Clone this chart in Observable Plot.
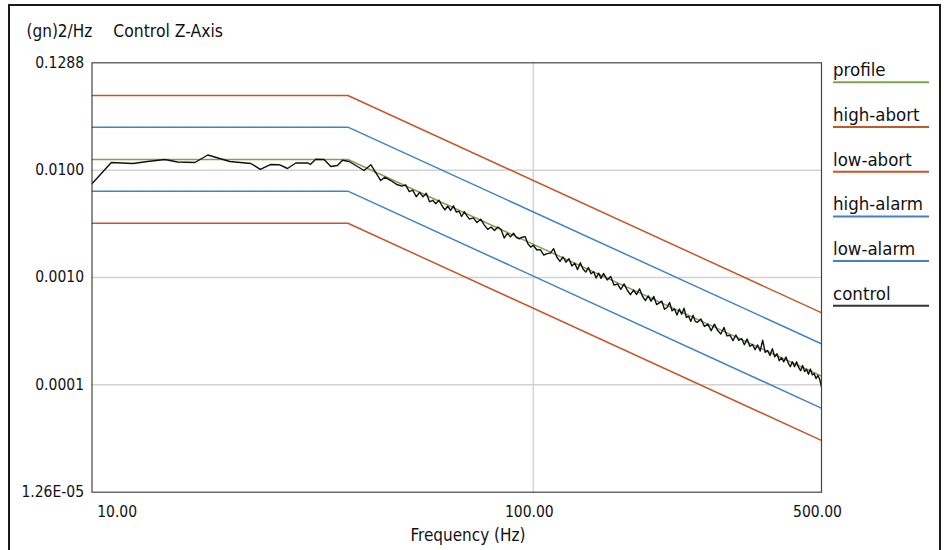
<!DOCTYPE html>
<html><head><meta charset="utf-8">
<script src="https://cdn.jsdelivr.net/npm/d3@7"></script>
<script src="https://cdn.jsdelivr.net/npm/@observablehq/plot@0.6"></script>
<style>
body{margin:0;background:#fff;}
#wrap{position:relative;width:945px;height:550px;overflow:hidden;font-family:"DejaVu Sans Condensed","DejaVu Sans",sans-serif;}
#border{position:absolute;left:8px;top:4px;width:933px;height:600px;border:2px solid #1a1a1a;box-sizing:border-box;}
#chart{position:absolute;left:0;top:0;}
#overlay{position:absolute;left:0;top:0;}
</style></head>
<body>
<div id="wrap"><div id="border"></div><div id="chart"></div><svg id="overlay" width="945" height="550"></svg></div>
<script>
// ---- data ----
const yTickLabels = ["1.26E-05", "0.0001", "0.0010", "0.0100", "0.1288"];
const xTickValues = [10, 100, 500];
const xTickLabels = ["10.00", "100.00", "500.00"];
const xGridValues = [100];
const seriesNames = ["profile", "high-abort", "low-abort", "high-alarm", "low-alarm", "control"];
const seriesColors = ["#7fa352", "#c4562c", "#c4562c", "#4282c2", "#4282c2", "#111111"];

const limitF = [8.5, 35.5, 500];
const profileV = [0.0161, 0.0161, 1.53e-4];
const highAbortV = [0.0638, 0.0638, 5.97e-4];
const lowAbortV = [0.00409, 0.00409, 3.83e-5];
const highAlarmV = [0.0323, 0.0323, 3.06e-4];
const lowAlarmV = [0.00815, 0.00815, 7.67e-5];

const controlF = [
  8.50, 9.47, 10.68, 11.59, 12.77, 13.71, 15.10, 16.23, 18.36, 20.64, 21.76, 23.01, 24.19, 25.33, 26.53, 28.44, 28.76, 29.66, 31.07, 32.26, 33.47, 34.43, 35.73, 38.85, 40.34, 42.64, 43.60, 45.09, 46.81,
  48, 49, 50, 51, 52, 53, 54, 55, 56, 57, 58, 59, 60, 61, 62, 63, 64, 65, 66, 67, 68, 69, 70,
  71.5, 73, 74.5, 76, 77.5, 79, 80.5, 82, 83.5, 85, 86.5, 88, 89.5, 91, 92.5, 94, 95.5, 97, 98.5,
  100, 102, 104, 106, 108, 110, 112, 114, 116, 118, 120, 122, 124, 126, 128, 130, 132, 134, 136, 138, 140, 142, 144, 146, 148,
  151, 154, 157, 160, 163, 166, 169, 172, 175, 178, 181, 184, 187, 190, 193, 196, 199, 202, 205, 208, 211, 214, 217, 220, 223, 226, 229, 232, 235, 238, 241, 244, 247,
  250, 255, 260, 265, 270, 275, 280, 285, 290, 295, 300, 305, 310, 315, 320, 325, 330, 335, 340, 345, 350, 355, 360, 365, 370, 375, 380, 385, 390, 395,
  400, 405, 410, 415, 420, 425, 430, 435, 440, 445, 450, 455, 460, 465, 470, 475, 480, 485, 490, 495, 500];
const controlV = [
  0.00955, 0.0151, 0.01478, 0.01543, 0.01611, 0.01527, 0.0151, 0.01774, 0.01543, 0.01478, 0.01305, 0.01446, 0.0144, 0.01327, 0.01494, 0.01494, 0.01446, 0.01618, 0.01611, 0.01386, 0.01416, 0.01584, 0.01543, 0.01272, 0.0144, 0.01025, 0.01101, 0.01025, 0.00935,
  0.00907, 0.00933, 0.00808, 0.00833, 0.00723, 0.00795, 0.00721, 0.00778, 0.00648, 0.00670, 0.00622, 0.00672, 0.00599, 0.00546, 0.00590, 0.00538, 0.00595, 0.00520, 0.00529, 0.00473, 0.00524, 0.00479, 0.00447,
  0.00459, 0.00415, 0.00446, 0.00395, 0.00358, 0.00377, 0.00350, 0.00377, 0.00357, 0.00298, 0.00329, 0.00305, 0.00330, 0.00300, 0.00292, 0.00303, 0.00307, 0.00263, 0.00245,
  0.00255, 0.00230, 0.00232, 0.00206, 0.00213, 0.00215, 0.00237, 0.00198, 0.00180, 0.00198, 0.00177, 0.00191, 0.00163, 0.00173, 0.00151, 0.00175, 0.00153, 0.00143, 0.00158, 0.00138, 0.00144, 0.00126, 0.00140, 0.00125, 0.00139,
  0.00121, 0.00130, 0.00108, 0.00111, 9.88e-4, 0.00111, 9.68e-4, 8.80e-4, 9.71e-4, 8.84e-4, 9.97e-4, 8.51e-4, 7.76e-4, 8.58e-4, 7.66e-4, 8.48e-4, 7.11e-4, 7.38e-4, 7.67e-4, 6.43e-4, 6.69e-4, 7.43e-4, 6.23e-4, 6.49e-4, 5.69e-4, 6.46e-4, 5.79e-4, 6.58e-4, 5.42e-4, 5.53e-4, 4.96e-4, 5.65e-4, 4.96e-4,
  4.86e-4, 5.22e-4, 4.44e-4, 4.68e-4, 4.06e-4, 4.67e-4, 4.07e-4, 3.78e-4, 4.35e-4, 3.63e-4, 3.68e-4, 3.28e-4, 3.70e-4, 3.30e-4, 3.43e-4, 3.00e-4, 3.39e-4, 2.90e-4, 3.02e-4, 2.70e-4, 2.99e-4, 2.62e-4, 3.31e-4, 2.55e-4, 2.65e-4, 2.38e-4, 2.76e-4, 2.32e-4, 2.47e-4, 2.13e-4,
  2.27e-4, 2.08e-4, 2.31e-4, 2.03e-4, 1.87e-4, 2.08e-4, 1.87e-4, 2.08e-4, 1.84e-4, 1.72e-4, 1.92e-4, 1.69e-4, 1.77e-4, 1.59e-4, 1.78e-4, 1.57e-4, 1.61e-4, 1.45e-4, 1.55e-4, 1.43e-4, 1.21e-4];

const xDomain = [8.5, 500];
const yDomain = [1.26e-5, 0.1288];

// ---- build ----
const zip = (fs, vs) => fs.map((f, i) => ({f, v: vs[i]}));
const lo = Math.log10(yDomain[0]), hi = Math.log10(yDomain[1]);
const yTicks = yTickLabels.map((_, i) => Math.pow(10, lo + (hi - lo) * i / (yTickLabels.length - 1)));
const yLabelMap = new Map(yTicks.map((t, i) => [t, yTickLabels[i]]));
const xLabelMap = new Map(xTickValues.map((t, i) => [t, xTickLabels[i]]));

const W = 945, H = 550, mL = 91.5, mR = 124, mT = 62.3, mB = 58.3;
const lineSeries = [
  [lowAbortV, 2], [highAbortV, 1], [lowAlarmV, 4], [highAlarmV, 3], [profileV, 0]
];
const font = '"DejaVu Sans Condensed", "DejaVu Sans", sans-serif';
const chart = Plot.plot({
  width: W, height: H,
  marginLeft: mL, marginRight: mR, marginTop: mT, marginBottom: mB,
  x: {type: "log", domain: xDomain},
  y: {type: "log", domain: yDomain},
  style: {fontFamily: font, fontSize: "15.5px", color: "#111", background: "transparent", overflow: "visible"},
  marks: [
    Plot.gridY(yTicks.slice(1, -1), {stroke: "#d2d2d2", strokeOpacity: 1, strokeWidth: 1.5}),
    Plot.gridX(xGridValues, {stroke: "#d2d2d2", strokeOpacity: 1, strokeWidth: 1.5}),
    ...lineSeries.map(([vals, ci]) => Plot.line(zip(limitF, vals), {x: "f", y: "v", stroke: seriesColors[ci], strokeWidth: 1.5, clip: true})),
    Plot.line(zip(controlF, controlV), {x: "f", y: "v", stroke: seriesColors[5], strokeWidth: 1.4, clip: true}),
    Plot.frame({stroke: "#444", strokeWidth: 1.2}),
    Plot.axisY(yTicks, {tickSize: 0, tickPadding: 8, tickFormat: d => yLabelMap.get(d), label: null, fontSize: 15.5}),
    Plot.axisX(xTickValues, {tickSize: 0, tickPadding: 14, tickFormat: d => xLabelMap.get(d), label: null, fontSize: 15.5, dx: -4})
  ]
});
document.getElementById("chart").appendChild(chart);

// ---- title, axis label, legend ----
const ov = d3.select("#overlay").style("font-family", font).attr("fill", "#111");
ov.append("text").attr("x", 26.5).attr("y", 36.7).attr("font-size", 17).text("(gn)2/Hz");
ov.append("text").attr("x", 113.3).attr("y", 36.7).attr("font-size", 17.4).text("Control Z-Axis");
ov.append("text").attr("x", 468).attr("y", 541).attr("text-anchor", "middle").attr("font-size", 17).text("Frequency (Hz)");
seriesNames.forEach((name, i) => {
  const yl = 82.3 + i * 44.7;
  ov.append("text").attr("x", 833).attr("y", yl - 6).attr("font-size", 18.5).text(name);
  ov.append("line").attr("x1", 833).attr("x2", 929).attr("y1", yl).attr("y2", yl)
    .attr("stroke", i === 5 ? "#333" : seriesColors[i]).attr("stroke-width", 2);
});
</script>
</body></html>
